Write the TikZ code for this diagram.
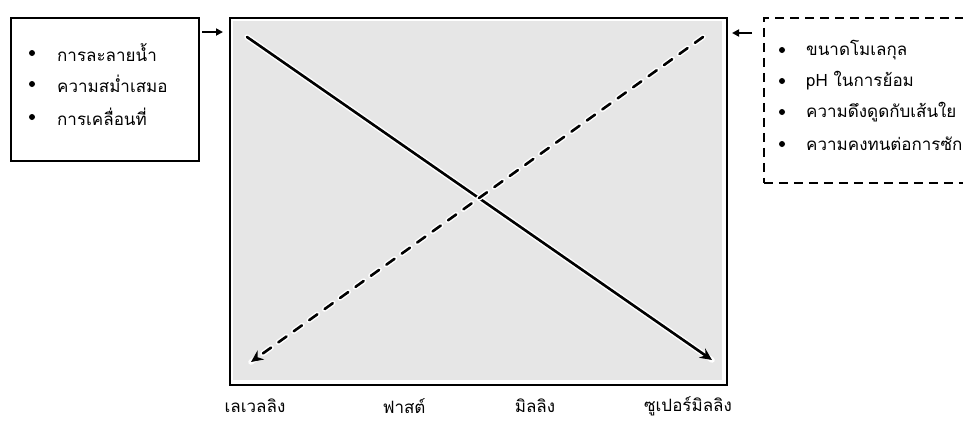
\documentclass[tikz,border=0pt]{standalone}
\usepackage{fontspec}
\newfontfamily\thaifont[Script=Thai]{Loma}
\usetikzlibrary{arrows.meta}
\definecolor{panelgray}{RGB}{230,230,230}
\tikzset{
  txt/.style={font=\thaifont\fontsize{17}{19}\selectfont, inner sep=0pt, anchor=west},
  lbl/.style={font=\thaifont\fontsize{17}{19}\selectfont, inner sep=0pt, anchor=center},
  bul/.style={fill=black},
  smallarr/.style={line width=1.8pt, -{Triangle[length=7pt,width=7pt]}},
  solidarr/.style={line width=2.6pt, line cap=round, -{Stealth[length=12pt,width=11pt]},
     preaction={draw=white, line width=5.5pt, line cap=round, -}},
  dasharr/.style={line width=2.6pt, line cap=round, dash pattern=on 10pt off 9pt, -{Stealth[length=12pt,width=11pt]},
     preaction={draw=white, line width=5.5pt, line cap=round, dash pattern=on 10pt off 9pt, -}}
}
\begin{document}
\begin{tikzpicture}[x=1pt,y=-1pt]
\useasboundingbox (0,0) rectangle (963,421);
\clip (0,0) rectangle (963,421);
% main panel
\node[draw, line width=2.2pt, minimum width=497pt, minimum height=367pt, inner sep=0pt, anchor=north west] (main) at (229,17) {};
\fill[panelgray] (233,21) rectangle (722,380);
% left box
\node[draw, line width=1.5pt, minimum width=188pt, minimum height=143pt, inner sep=0pt, anchor=north west] (lbox) at (10,17) {};
% right dashed box (extends past right edge)
\node[draw, line width=1.5pt, dash pattern=on 9pt off 6pt, minimum width=220pt, minimum height=165pt, inner sep=0pt, anchor=north west] (rbox) at (763,17) {};
% small arrows
\coordinate (la1) at (202,32);
\coordinate (la2) at (223,32);
\draw[smallarr] (la1) -- (la2);
\coordinate (ra1) at (752,33);
\coordinate (ra2) at (732,33);
\draw[smallarr] (ra1) -- (ra2);
% diagonal arrows
\coordinate (s1) at (247,37);
\coordinate (s2) at (712,360);
\draw[solidarr] (s1) -- (s2);
\coordinate (d1) at (703,37);
\coordinate (d2) at (251,362);
\draw[dasharr] (d1) -- (d2);
% left list
\fill[bul] (32,53) circle (3pt);
\fill[bul] (32,84) circle (3pt);
\fill[bul] (32,117) circle (3pt);
\node[txt] (l1) at (57,53) {การละลายน้ำ};
\node[txt] (l2) at (57,84) {ความสม่ำเสมอ};
\node[txt] (l3) at (57,117) {การเคลื่อนที่};
% right list
\fill[bul] (782,50) circle (3pt);
\fill[bul] (782,81) circle (3pt);
\fill[bul] (782,112) circle (3pt);
\fill[bul] (782,144) circle (3pt);
\node[txt] (r1) at (806,50) {ขนาดโมเลกุล};
\node[txt] (r2) at (806,81) {pH ในการย้อม};
\node[txt] (r3) at (806,112) {ความดึงดูดกับเส้นใย};
\node[txt] (r4) at (806,144) {ความคงทนต่อการซัก};
% bottom labels
\node[lbl] (b1) at (255,406) {เลเวลลิง};
\node[lbl] (b2) at (404,406) {ฟาสต์};
\node[lbl] (b3) at (535,406) {มิลลิง};
\node[lbl] (b4) at (688,406) {ซูเปอร์มิลลิง};
\end{tikzpicture}
\end{document}
